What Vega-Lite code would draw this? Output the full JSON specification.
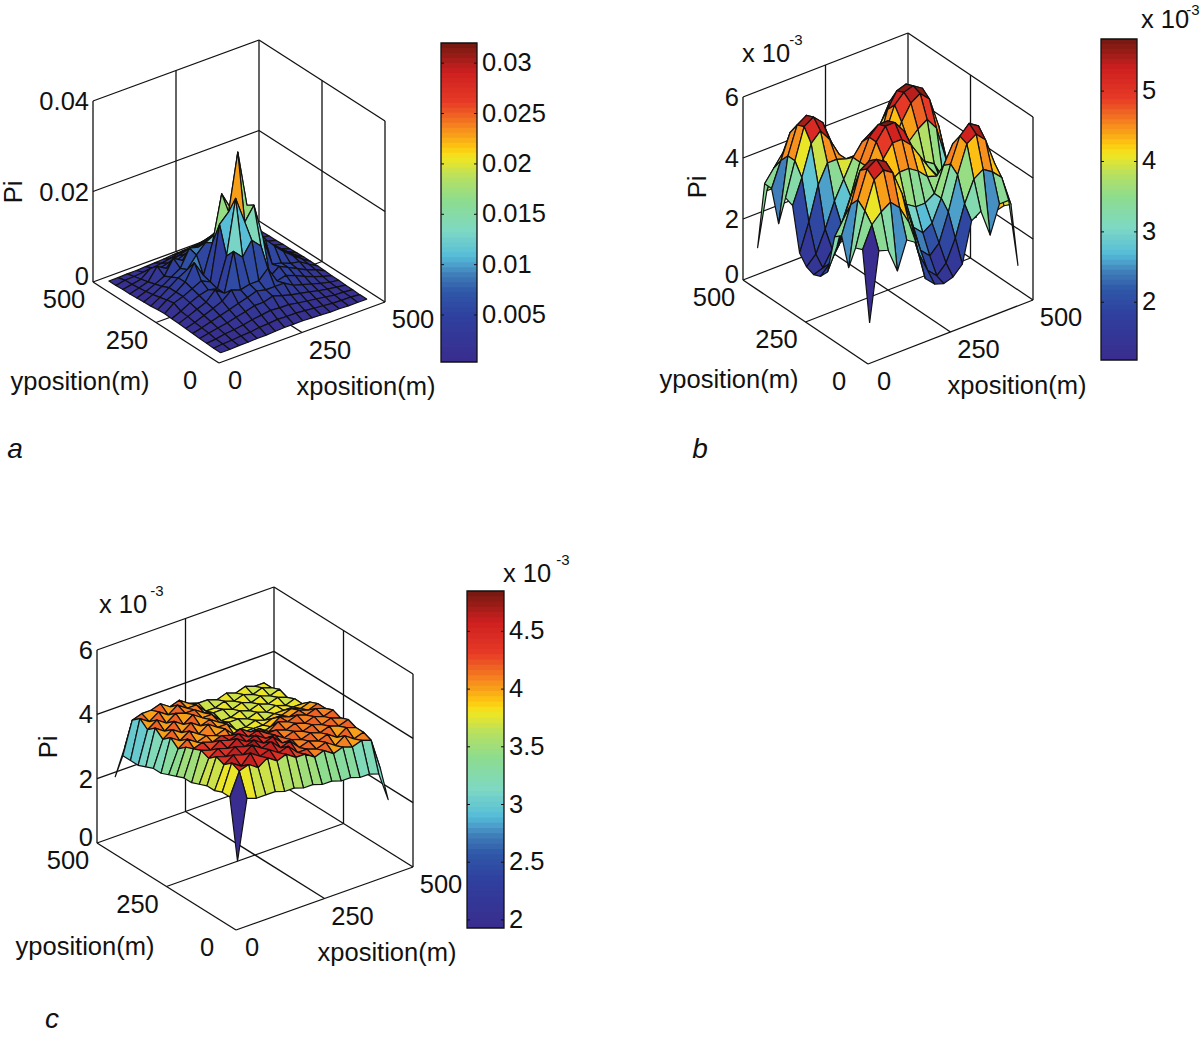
{
"$schema":"https://vega.github.io/schema/vega-lite/v6.json",
"width":1200,"height":1040,"padding":0,"autosize":{"type":"fit","contains":"padding"},
"background":"white","config":{"view":{"stroke":null},"text":{"font":"Liberation Sans","fontSize":25.5,"color":"#111"}},
"params":[
{"name":"P","value":{"a":{"fx":219,"fy":363,"ax":166,"ay":61,"bx":126,"by":81,"zh":181,"zt":40,"c0":441,"c1":477,"cb":362,"ct":43,"vmin":0.34,"vmax":32,"gx":27.5,"gy":27.7},
"b":{"fx":868,"fy":364,"ax":165,"ay":64,"bx":125,"by":84,"zh":183,"zt":6,"c0":1101,"c1":1137,"cb":360,"ct":39,"vmin":1.18,"vmax":5.74,"gx":28.1,"gy":28},
"c":{"fx":236,"fy":930,"ax":177,"ay":63,"bx":139,"by":87,"zh":193,"zt":6,"c0":467,"c1":504,"cb":928,"ct":591,"vmin":1.93,"vmax":4.85,"gx":26.6,"gy":27.5}}},
{"name":"A","value":{"a":{"xt":[147,24],"yt":[-139,19],"Pi":[-205,-171],"let":[-204,87]},
"b":{"xt":[149,22],"yt":[-139,16],"Pi":[-170,-177],"let":[-168,86],"e1":[-102,-310],"e2":[-72,-324],"c1":[297,-344],"c2":[325,-354]},
"c":{"xt":[151,23],"yt":[-151,17],"Pi":[-187,-183],"let":[-184,90],"e1":[-113,-325],"e2":[-79,-339],"c1":[291,-356],"c2":[327,-370]}}}
],
"datasets":{
"surf":[
{"p":"a","j":16,"z":[1.0,1.0,1.1,1.1,1.2,1.3,1.4,1.6,1.7,1.6,1.5,1.3,1.2,1.1,1.1,1.0,1.0]},
{"p":"a","j":15,"z":[1.0,1.4,1.5,1.7,1.9,2.2,2.6,3.0,3.3,3.0,2.6,2.2,1.9,1.6,1.4,1.3,1.0]},
{"p":"a","j":14,"z":[1.1,1.5,1.9,3.5,2.8,3.3,4.0,4.6,5.0,4.6,4.0,3.3,2.7,2.2,1.8,1.4,1.1]},
{"p":"a","j":13,"z":[1.1,1.7,2.3,5.0,3.8,4.6,5.4,6.2,6.8,6.2,5.4,4.5,3.7,2.8,2.2,1.6,1.1]},
{"p":"a","j":12,"z":[1.2,1.9,2.8,3.8,7.0,5.8,7.0,8.0,8.8,8.0,7.0,5.8,4.8,3.5,2.7,1.8,1.2]},
{"p":"a","j":11,"z":[1.3,2.2,3.3,4.6,5.8,9.5,9.0,10,11,10,9.0,7.4,5.6,4.3,3.1,2.0,1.2]},
{"p":"a","j":10,"z":[1.4,2.6,4.0,5.4,6.5,9.0,11,12,13.5,12,10.5,9.0,6.8,5.0,3.6,2.3,1.3]},
{"p":"a","j":9,"z":[1.6,3.0,4.0,5.5,9.0,5.5,12,22,18,15,12,9.5,7.4,5.5,4.0,2.6,1.4]},
{"p":"a","j":8,"z":[1.7,3.3,4.0,5.0,6.0,5.0,17,19,31.5,19,13,10,7.8,5.8,4.2,2.7,1.4]},
{"p":"a","j":7,"z":[1.6,2.5,3.6,4.5,5.0,4.5,11,23,17,20,12,5.5,5.0,4.2,3.8,2.5,1.4]},
{"p":"a","j":6,"z":[1.5,2.3,3.2,4.0,6.0,4.5,13,11,14,12,4.5,6.0,5.0,4.0,3.0,2.3,1.3]},
{"p":"a","j":5,"z":[1.4,2.0,2.8,3.6,4.5,6.2,5.5,6.0,6.0,8.0,4.5,5.0,4.2,3.3,2.5,1.8,1.2]},
{"p":"a","j":4,"z":[1.3,1.8,2.4,3.0,3.6,4.2,4.8,5.5,5.0,5.0,5.0,3.8,3.2,2.6,2.0,1.5,1.2]},
{"p":"a","j":3,"z":[1.2,1.6,2.0,2.4,2.9,3.4,4.0,4.0,4.6,4.0,3.4,3.0,2.6,2.1,1.7,1.4,1.1]},
{"p":"a","j":2,"z":[1.1,1.3,1.7,1.9,2.2,2.6,2.9,3.2,3.0,3.0,2.6,2.3,2.0,1.7,1.4,1.3,1.1]},
{"p":"a","j":1,"z":[1.0,1.2,1.3,1.5,1.6,1.9,2.0,2.2,2.1,2.1,1.9,1.7,1.5,1.3,1.2,1.2,1.0]},
{"p":"a","j":0,"z":[1.0,1.0,1.1,1.1,1.2,1.2,1.3,1.4,1.4,1.4,1.3,1.2,1.1,1.1,1.0,1.0,1.0]},
{"p":"b","j":16,"z":[1.15,2.9,2.9,2.6,2.7,2.5,1.8,1.5,1.5,1.6,1.9,2.6,2.8,2.5,2.8,2.9,1.3]},
{"p":"b","j":15,"z":[3.4,3.8,4.2,4.3,3.9,3.2,2.3,1.7,1.5,1.7,2.2,3.0,3.5,3.6,3.4,3.0,2.8]},
{"p":"b","j":14,"z":[3.4,4.2,5.0,5.1,4.8,3.8,2.6,1.9,1.6,1.9,2.6,3.6,4.1,4.3,4.0,3.2,2.7]},
{"p":"b","j":13,"z":[2.4,4.5,5.4,5.6,5.3,4.3,3.1,2.3,2.0,2.4,3.2,4.4,5.0,5.1,4.7,3.7,2.5]},
{"p":"b","j":12,"z":[3.4,4.5,5.5,5.7,5.4,4.6,3.5,2.8,2.5,3.0,4.0,5.0,5.5,5.6,5.2,4.2,2.8]},
{"p":"b","j":11,"z":[3.3,4.1,5.1,5.4,5.0,4.4,3.7,3.4,3.4,3.7,4.5,5.3,5.6,5.7,5.5,4.5,3.0]},
{"p":"b","j":10,"z":[1.9,2.8,3.9,4.5,4.5,4.4,4.4,4.3,4.2,4.1,4.3,4.9,5.4,5.6,5.3,4.3,2.9]},
{"p":"b","j":9,"z":[1.6,1.9,2.6,3.4,4.0,4.6,5.0,5.2,5.1,4.7,4.3,4.4,4.7,4.9,4.5,3.4,2.5]},
{"p":"b","j":8,"z":[1.5,1.6,2.1,2.8,3.6,4.6,5.3,5.6,5.6,5.2,4.5,3.8,3.8,3.6,3.0,2.2,1.7]},
{"p":"b","j":7,"z":[1.6,1.9,2.4,3.0,3.7,4.6,5.3,5.7,5.7,5.3,4.6,3.8,3.5,3.2,2.6,2.0,1.6]},
{"p":"b","j":6,"z":[1.9,2.6,3.3,3.7,3.9,4.4,4.9,5.3,5.3,5.0,4.5,4.0,3.6,3.3,2.9,2.4,1.8]},
{"p":"b","j":5,"z":[3.2,3.7,4.5,4.8,4.6,4.2,4.3,4.5,4.5,4.3,4.0,3.9,4.1,4.2,3.8,3.2,2.6]},
{"p":"b","j":4,"z":[3.4,4.3,5.3,5.5,5.2,4.6,3.9,3.6,3.4,3.4,3.6,4.4,5.0,5.2,4.9,4.0,2.9]},
{"p":"b","j":3,"z":[2.5,4.6,5.5,5.7,5.5,4.8,3.7,3.0,2.7,2.9,3.6,4.6,5.4,5.7,5.5,4.5,2.5]},
{"p":"b","j":2,"z":[3.3,4.4,5.3,5.5,5.3,4.5,3.4,2.4,2.1,2.4,3.3,4.4,5.3,5.5,5.2,4.3,2.8]},
{"p":"b","j":1,"z":[3.4,4.1,4.4,4.6,4.3,3.7,2.6,1.9,1.6,1.9,2.6,3.6,4.3,4.5,4.3,4.0,3.0]},
{"p":"b","j":0,"z":[1.15,3.4,3.3,2.5,3.4,3.2,1.9,1.6,1.5,1.6,1.9,3.2,3.4,2.5,3.4,3.4,1.15]},
{"p":"c","j":16,"z":[2.2,3.0,3.1,3.1,3.2,3.1,3.0,3.1,3.0,3.0,3.0,3.0,3.0,3.1,3.0,3.0,2.4]},
{"p":"c","j":15,"z":[3.0,4.0,4.1,4.1,4.2,4.0,4.1,3.9,3.8,3.8,3.7,3.8,3.7,3.8,3.7,3.7,3.0]},
{"p":"c","j":14,"z":[3.0,4.2,4.0,4.2,4.0,4.2,4.0,4.0,3.7,3.7,3.8,3.7,3.8,3.7,3.8,3.7,3.0]},
{"p":"c","j":13,"z":[3.0,4.0,4.2,4.0,4.2,4.1,4.1,3.9,3.8,3.8,3.7,3.8,3.7,3.8,3.7,3.8,3.1]},
{"p":"c","j":12,"z":[3.1,4.2,4.0,4.2,4.0,4.2,4.0,4.0,3.7,3.7,3.8,3.7,3.8,3.7,3.8,3.7,3.1]},
{"p":"c","j":11,"z":[3.2,4.0,4.2,4.0,4.2,4.0,4.1,3.9,3.8,3.8,3.7,3.8,3.7,3.8,3.7,3.8,3.1]},
{"p":"c","j":10,"z":[3.2,4.2,4.0,4.2,4.0,4.2,4.0,4.0,3.7,3.7,3.8,3.7,3.8,3.8,3.8,3.8,3.2]},
{"p":"c","j":9,"z":[3.3,4.0,4.2,4.0,4.1,4.0,4.1,3.8,3.8,3.8,3.8,3.9,3.9,4.0,3.9,4.0,3.4]},
{"p":"c","j":8,"z":[3.4,4.2,4.0,4.1,4.0,4.1,3.9,3.9,2.9,3.8,3.9,4.1,4.0,4.1,4.0,4.1,3.2]},
{"p":"c","j":7,"z":[3.5,4.3,4.4,4.3,4.4,4.3,4.4,4.2,4.2,4.0,4.2,4.1,4.2,4.1,4.2,4.1,3.3]},
{"p":"c","j":6,"z":[3.5,4.4,4.3,4.5,4.4,4.5,4.3,4.4,4.2,4.2,4.1,4.2,4.1,4.2,4.1,4.2,3.3]},
{"p":"c","j":5,"z":[3.6,4.3,4.5,4.4,4.6,4.4,4.5,4.3,4.3,4.1,4.2,4.1,4.2,4.1,4.2,4.1,3.2]},
{"p":"c","j":4,"z":[3.7,4.5,4.4,4.6,4.5,4.6,4.4,4.5,4.2,4.2,4.1,4.2,4.1,4.2,4.1,4.2,3.1]},
{"p":"c","j":3,"z":[3.7,4.4,4.6,4.5,4.7,4.5,4.6,4.3,4.4,4.1,4.2,4.1,4.2,4.0,4.2,4.1,3.1]},
{"p":"c","j":2,"z":[3.8,4.6,4.4,4.7,4.5,4.6,4.4,4.5,4.2,4.2,4.1,4.2,4.0,4.2,4.0,4.1,3.1]},
{"p":"c","j":1,"z":[3.8,4.5,4.6,4.4,4.6,4.4,4.5,4.3,4.3,4.1,4.2,4.0,4.1,4.0,4.1,4.0,3.0]},
{"p":"c","j":0,"z":[1.95,3.8,3.7,3.7,3.7,3.6,3.6,3.5,3.5,3.4,3.4,3.3,3.3,3.2,3.2,3.1,2.2]}
],
"box":[
{"ps":["a","b","c"],"x":0,"y":0,"f":0,"x2":500,"y2":0,"f2":0},
{"ps":["a","b","c"],"x":0,"y":0,"f":0,"x2":0,"y2":500,"f2":0},
{"ps":["a","b","c"],"x":0,"y":500,"f":0,"x2":500,"y2":500,"f2":0},
{"ps":["a","b","c"],"x":500,"y":0,"f":0,"x2":500,"y2":500,"f2":0},
{"ps":["a","b","c"],"x":250,"y":0,"f":0,"x2":250,"y2":500,"f2":0},
{"ps":["a","b","c"],"x":0,"y":250,"f":0,"x2":500,"y2":250,"f2":0},
{"ps":["a","b","c"],"x":0,"y":500,"f":0,"x2":0,"y2":500,"f2":1},
{"ps":["a","b","c"],"x":500,"y":500,"f":0,"x2":500,"y2":500,"f2":1},
{"ps":["a","b","c"],"x":500,"y":0,"f":0,"x2":500,"y2":0,"f2":1},
{"ps":["a","b","c"],"x":250,"y":500,"f":0,"x2":250,"y2":500,"f2":1},
{"ps":["a","b","c"],"x":500,"y":250,"f":0,"x2":500,"y2":250,"f2":1},
{"ps":["a","b","c"],"x":0,"y":500,"f":1,"x2":500,"y2":500,"f2":1},
{"ps":["a","b","c"],"x":500,"y":500,"f":1,"x2":500,"y2":0,"f2":1},
{"ps":["a"],"x":0,"y":500,"f":0.5,"x2":500,"y2":500,"f2":0.5},
{"ps":["a"],"x":500,"y":500,"f":0.5,"x2":500,"y2":0,"f2":0.5},
{"ps":["b","c"],"x":0,"y":500,"f":0.3333,"x2":500,"y2":500,"f2":0.3333},
{"ps":["b","c"],"x":500,"y":500,"f":0.3333,"x2":500,"y2":0,"f2":0.3333},
{"ps":["b","c"],"x":0,"y":500,"f":0.6667,"x2":500,"y2":500,"f2":0.6667},
{"ps":["b","c"],"x":500,"y":500,"f":0.6667,"x2":500,"y2":0,"f2":0.6667}
],
"ticks":[
{"p":"a","ax":"z","v":0,"t":"0"},{"p":"a","ax":"z","v":20,"t":"0.02"},{"p":"a","ax":"z","v":40,"t":"0.04"},
{"p":"b","ax":"z","v":0,"t":"0"},{"p":"b","ax":"z","v":2,"t":"2"},{"p":"b","ax":"z","v":4,"t":"4"},{"p":"b","ax":"z","v":6,"t":"6"},
{"p":"c","ax":"z","v":0,"t":"0"},{"p":"c","ax":"z","v":2,"t":"2"},{"p":"c","ax":"z","v":4,"t":"4"},{"p":"c","ax":"z","v":6,"t":"6"},
{"p":"a","ax":"x","v":0,"t":"0"},{"p":"a","ax":"x","v":250,"t":"250"},{"p":"a","ax":"x","v":500,"t":"500"},
{"p":"b","ax":"x","v":0,"t":"0"},{"p":"b","ax":"x","v":250,"t":"250"},{"p":"b","ax":"x","v":500,"t":"500"},
{"p":"c","ax":"x","v":0,"t":"0"},{"p":"c","ax":"x","v":250,"t":"250"},{"p":"c","ax":"x","v":500,"t":"500"},
{"p":"a","ax":"y","v":0,"t":"0"},{"p":"a","ax":"y","v":250,"t":"250"},{"p":"a","ax":"y","v":500,"t":"500"},
{"p":"b","ax":"y","v":0,"t":"0"},{"p":"b","ax":"y","v":250,"t":"250"},{"p":"b","ax":"y","v":500,"t":"500"},
{"p":"c","ax":"y","v":0,"t":"0"},{"p":"c","ax":"y","v":250,"t":"250"},{"p":"c","ax":"y","v":500,"t":"500"}
],
"cticks":[
{"p":"a","v":5,"t":"0.005"},{"p":"a","v":10,"t":"0.01"},{"p":"a","v":15,"t":"0.015"},{"p":"a","v":20,"t":"0.02"},{"p":"a","v":25,"t":"0.025"},{"p":"a","v":30,"t":"0.03"},
{"p":"b","v":2,"t":"2"},{"p":"b","v":3,"t":"3"},{"p":"b","v":4,"t":"4"},{"p":"b","v":5,"t":"5"},
{"p":"c","v":2,"t":"2"},{"p":"c","v":2.5,"t":"2.5"},{"p":"c","v":3,"t":"3"},{"p":"c","v":3.5,"t":"3.5"},{"p":"c","v":4,"t":"4"},{"p":"c","v":4.5,"t":"4.5"}
],
"levels":[
{"ps":["a","b","c"],"l":[0,1,2,3,4,5,6,7,8,9,10,11,12,13,14,15,16,17,18,19,20,21,22,23,24,25,26,27,28,29,30,31,32,33,34,35,36,37,38,39,40,41,42,43,44,45,46,47,48,49,50,51,52,53,54,55,56,57,58,59,60,61,62,63]}
],
"ann":[
{"p":"a","k":"xt","t":"xposition(m)"},{"p":"a","k":"yt","t":"yposition(m)"},{"p":"a","k":"Pi","t":"Pi"},{"p":"a","k":"let","t":"a"},
{"p":"b","k":"xt","t":"xposition(m)"},{"p":"b","k":"yt","t":"yposition(m)"},{"p":"b","k":"Pi","t":"Pi"},{"p":"b","k":"let","t":"b"},
{"p":"b","k":"e1","t":"x 10"},{"p":"b","k":"e2","t":"-3"},{"p":"b","k":"c1","t":"x 10"},{"p":"b","k":"c2","t":"-3"},
{"p":"c","k":"xt","t":"xposition(m)"},{"p":"c","k":"yt","t":"yposition(m)"},{"p":"c","k":"Pi","t":"Pi"},{"p":"c","k":"let","t":"c"},
{"p":"c","k":"e1","t":"x 10"},{"p":"c","k":"e2","t":"-3"},{"p":"c","k":"c1","t":"x 10"},{"p":"c","k":"c2","t":"-3"}
]
},
"encoding":{
"x":{"field":"sx","type":"quantitative","scale":{"domain":[0,1200],"zero":false,"nice":false},"axis":null},
"y":{"field":"sy","type":"quantitative","scale":{"domain":[1040,0],"zero":false,"nice":false},"axis":null}
},
"layer":[
{"data":{"name":"box"},
"transform":[{"flatten":["ps"],"as":["p"]},
{"calculate":"P[datum.p].fx+P[datum.p].ax*datum.x/500-P[datum.p].bx*datum.y/500","as":"sx"},
{"calculate":"P[datum.p].fy-P[datum.p].ay*datum.x/500-P[datum.p].by*datum.y/500-P[datum.p].zh*datum.f","as":"sy"},
{"calculate":"P[datum.p].fx+P[datum.p].ax*datum.x2/500-P[datum.p].bx*datum.y2/500","as":"sx2"},
{"calculate":"P[datum.p].fy-P[datum.p].ay*datum.x2/500-P[datum.p].by*datum.y2/500-P[datum.p].zh*datum.f2","as":"sy2"}],
"mark":{"type":"rule","stroke":"#111","strokeWidth":1.3},
"encoding":{"x2":{"field":"sx2"},"y2":{"field":"sy2"}}},
{"data":{"name":"surf"},
"transform":[
{"window":[{"op":"lead","field":"z","as":"zn"}],"groupby":["p"],"sort":[{"field":"j","order":"ascending"}]},
{"filter":"isValid(datum.zn)"},
{"calculate":"[15,14,13,12,11,10,9,8,7,6,5,4,3,2,1,0]","as":"col"},
{"flatten":["col"],"as":["i"]},
{"calculate":"[0,1,2,3,4]","as":"ord"},{"calculate":"[0,1,1,0,0]","as":"di"},{"calculate":"[0,0,1,1,0]","as":"dj"},
{"flatten":["ord","di","dj"],"as":["o","di1","dj1"]},
{"calculate":"(datum.dj1?datum.zn:datum.z)[datum.i+datum.di1]","as":"zv"},
{"calculate":"20+(datum.i+datum.di1)*P[datum.p].gx","as":"xm"},
{"calculate":"20+(datum.j+datum.dj1)*P[datum.p].gy","as":"ym"},
{"calculate":"floor(64*min(0.999,max(0,(datum.z[datum.i]-P[datum.p].vmin)/(P[datum.p].vmax-P[datum.p].vmin))))/64+0.0078","as":"n"},
{"calculate":"datum.p+'_'+datum.j+'_'+datum.i","as":"cid"},
{"calculate":"P[datum.p].fx+P[datum.p].ax*datum.xm/500-P[datum.p].bx*datum.ym/500","as":"sx"},
{"calculate":"P[datum.p].fy-P[datum.p].ay*datum.xm/500-P[datum.p].by*datum.ym/500-P[datum.p].zh*datum.zv/P[datum.p].zt","as":"sy"}],
"mark":{"type":"line","stroke":"#111","strokeWidth":1.2,"strokeJoin":"round"},
"encoding":{"detail":{"field":"cid"},"order":{"field":"o"},
"fill":{"field":"n","type":"quantitative","legend":null,"scale":{"domain":[0,0.14,0.22,0.27,0.33,0.41,0.51,0.58,0.64,0.67,0.74,0.815,0.906,1],"range":["#3a2d8e","#2f3f9e","#2f58a8","#3f7ab8","#55bcd8","#7dd8c4","#8edc8c","#b8e060","#f2e61f","#fdc910","#f58220","#e63a26","#cf2020","#701a10"],"interpolate":"rgb"}}}},
{"data":{"name":"levels"},
"transform":[{"flatten":["ps"],"as":["p"]},{"flatten":["l"],"as":["lv"]},
{"calculate":"(datum.lv+0.5)/64","as":"n"},
{"calculate":"P[datum.p].c0","as":"sx"},{"calculate":"P[datum.p].c1","as":"sx2"},
{"calculate":"P[datum.p].cb+(P[datum.p].ct-P[datum.p].cb)*datum.lv/64","as":"sy"},
{"calculate":"P[datum.p].cb+(P[datum.p].ct-P[datum.p].cb)*min(64,datum.lv+1.5)/64","as":"sy2"}],
"mark":{"type":"rect","stroke":null},
"encoding":{"x2":{"field":"sx2"},"y2":{"field":"sy2"},"fill":{"field":"n","type":"quantitative","legend":null}}},
{"data":{"values":[{"p":"a"},{"p":"b"},{"p":"c"}]},
"transform":[{"calculate":"P[datum.p].c0","as":"sx"},{"calculate":"P[datum.p].c1","as":"sx2"},{"calculate":"P[datum.p].cb","as":"sy"},{"calculate":"P[datum.p].ct","as":"sy2"}],
"mark":{"type":"rect","fill":null,"stroke":"#111","strokeWidth":1.3},
"encoding":{"x2":{"field":"sx2"},"y2":{"field":"sy2"}}},
{"data":{"name":"cticks"},
"transform":[{"calculate":"P[datum.p].cb+(P[datum.p].ct-P[datum.p].cb)*(datum.v-P[datum.p].vmin)/(P[datum.p].vmax-P[datum.p].vmin)","as":"sy"},
{"calculate":"P[datum.p].c0","as":"sx"},{"calculate":"P[datum.p].c0+3","as":"sx2"}],
"mark":{"type":"rule","stroke":"#111"},"encoding":{"x2":{"field":"sx2"}}},
{"data":{"name":"cticks"},
"transform":[{"calculate":"P[datum.p].cb+(P[datum.p].ct-P[datum.p].cb)*(datum.v-P[datum.p].vmin)/(P[datum.p].vmax-P[datum.p].vmin)","as":"sy"},
{"calculate":"P[datum.p].c1","as":"sx"},{"calculate":"P[datum.p].c1-3","as":"sx2"}],
"mark":{"type":"rule","stroke":"#111"},"encoding":{"x2":{"field":"sx2"}}},
{"data":{"name":"cticks"},
"transform":[{"calculate":"P[datum.p].cb+(P[datum.p].ct-P[datum.p].cb)*(datum.v-P[datum.p].vmin)/(P[datum.p].vmax-P[datum.p].vmin)","as":"sy"},
{"calculate":"P[datum.p].c1+5","as":"sx"}],
"mark":{"type":"text","align":"left","baseline":"middle"},"encoding":{"text":{"field":"t"}}},
{"data":{"name":"ticks"},
"transform":[{"filter":"datum.ax=='z'"},
{"calculate":"P[datum.p].fx-P[datum.p].bx-4","as":"sx"},
{"calculate":"P[datum.p].fy-P[datum.p].by-P[datum.p].zh*datum.v/P[datum.p].zt+(datum.v==0?-5:1)","as":"sy"}],
"mark":{"type":"text","align":"right","baseline":"middle"},"encoding":{"text":{"field":"t"}}},
{"data":{"name":"ticks"},
"transform":[{"filter":"datum.ax=='x'"},
{"calculate":"P[datum.p].fx+P[datum.p].ax*datum.v/500+(datum.v==0?16:28)","as":"sx"},
{"calculate":"P[datum.p].fy-P[datum.p].ay*datum.v/500+18","as":"sy"}],
"mark":{"type":"text","align":"center","baseline":"middle"},"encoding":{"text":{"field":"t"}}},
{"data":{"name":"ticks"},
"transform":[{"filter":"datum.ax=='y'"},
{"calculate":"P[datum.p].fx-P[datum.p].bx*datum.v/500-29","as":"sx"},
{"calculate":"P[datum.p].fy-P[datum.p].by*datum.v/500+18","as":"sy"}],
"mark":{"type":"text","align":"center","baseline":"middle"},"encoding":{"text":{"field":"t"}}},
{"data":{"name":"ann"},
"transform":[{"filter":"indexof(['xt','yt','e1','c1'],datum.k)>=0"},
{"calculate":"P[datum.p].fx+A[datum.p][datum.k][0]","as":"sx"},{"calculate":"P[datum.p].fy+A[datum.p][datum.k][1]","as":"sy"}],
"mark":{"type":"text","align":"center","baseline":"middle"},"encoding":{"text":{"field":"t"}}},
{"data":{"name":"ann"},
"transform":[{"filter":"indexof(['e2','c2'],datum.k)>=0"},
{"calculate":"P[datum.p].fx+A[datum.p][datum.k][0]","as":"sx"},{"calculate":"P[datum.p].fy+A[datum.p][datum.k][1]","as":"sy"}],
"mark":{"type":"text","align":"center","baseline":"middle","fontSize":15},"encoding":{"text":{"field":"t"}}},
{"data":{"name":"ann"},
"transform":[{"filter":"datum.k=='Pi'"},
{"calculate":"P[datum.p].fx+A[datum.p][datum.k][0]","as":"sx"},{"calculate":"P[datum.p].fy+A[datum.p][datum.k][1]","as":"sy"}],
"mark":{"type":"text","align":"center","baseline":"middle","angle":270},"encoding":{"text":{"field":"t"}}},
{"data":{"name":"ann"},
"transform":[{"filter":"datum.k=='let'"},
{"calculate":"P[datum.p].fx+A[datum.p][datum.k][0]","as":"sx"},{"calculate":"P[datum.p].fy+A[datum.p][datum.k][1]","as":"sy"}],
"mark":{"type":"text","align":"center","baseline":"middle","fontStyle":"italic","fontSize":28},"encoding":{"text":{"field":"t"}}}
]
}
